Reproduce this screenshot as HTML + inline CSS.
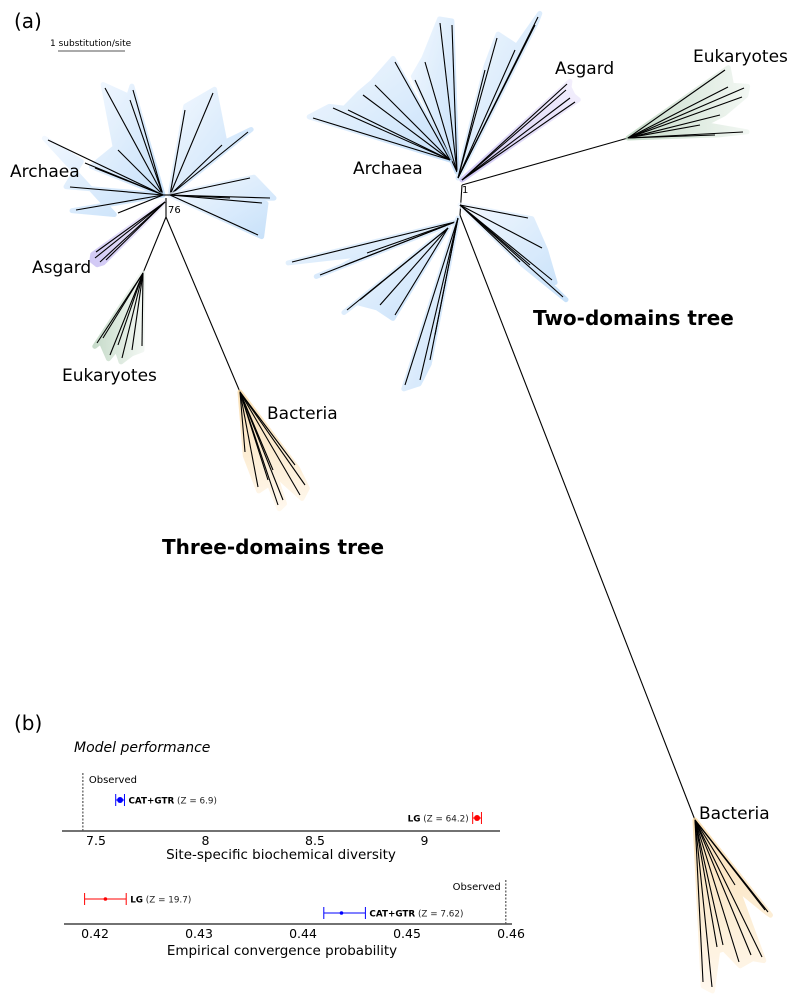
<!DOCTYPE html>
<html><head><meta charset="utf-8"><style>
body{margin:0;background:#fff;font-family:"Liberation Sans","DejaVu Sans",sans-serif;}
svg text{font-family:"DejaVu Sans","Liberation Sans",sans-serif;}
</style></head><body>
<svg id="fig" width="800" height="1001" viewBox="0 0 800 1001" xmlns="http://www.w3.org/2000/svg">
<defs>
<linearGradient id="gb" x1="0" y1="0" x2="1" y2="1"><stop offset="0" stop-color="#eef6ff"/><stop offset="1" stop-color="#b5d7f8"/></linearGradient>
<linearGradient id="go" x1="0" y1="0" x2="0" y2="1"><stop offset="0" stop-color="#f9d79f"/><stop offset="1" stop-color="#fff6e8"/></linearGradient>
<linearGradient id="gg" x1="1" y1="0" x2="0" y2="0"><stop offset="0" stop-color="#eef5ef"/><stop offset="1" stop-color="#b5d0b9"/></linearGradient>
<linearGradient id="gp" x1="1" y1="0" x2="0" y2="1"><stop offset="0" stop-color="#f0ebfc"/><stop offset="1" stop-color="#c2b7f2"/></linearGradient>
</defs>
<text x="14" y="28" font-size="20">(a)</text>
<text x="50" y="46" font-size="9">1 substitution/site</text>
<line x1="58" y1="51" x2="125" y2="51" stroke="#555" stroke-width="1"/>
<g id="trees"></g>
<text x="10" y="177" font-size="17">Archaea</text>
<text x="32" y="273" font-size="17">Asgard</text>
<text x="62" y="381" font-size="17">Eukaryotes</text>
<text x="267" y="419" font-size="17">Bacteria</text>
<text x="168" y="213" font-size="10">76</text>
<text x="162" y="554" font-size="20" font-weight="bold">Three-domains tree</text>
<text x="353" y="174" font-size="17">Archaea</text>
<text x="555" y="74" font-size="17">Asgard</text>
<text x="693" y="62" font-size="17">Eukaryotes</text>
<text x="699" y="819" font-size="17">Bacteria</text>
<text x="462" y="193" font-size="10">1</text>
<text x="533" y="325" font-size="20" font-weight="bold">Two-domains tree</text>

<text x="14" y="730" font-size="20">(b)</text>
<text x="74" y="752" font-size="14" font-style="italic">Model performance</text>
<g id="chart1"></g>
<g id="chart2"></g>
</svg>
<script>
const NS='http://www.w3.org/2000/svg';
const trees=document.getElementById('trees');
function mk(tag,attrs,parent){const e=document.createElementNS(NS,tag);for(const k in attrs)e.setAttribute(k,attrs[k]);parent.appendChild(e);return e;}
function fan(name,o,tips,fill){
  const g=mk('g',{},trees);
  
  
  const s=tips.slice().sort((a,b)=>Math.atan2(a[1]-o[1],a[0]-o[0])-Math.atan2(b[1]-o[1],b[0]-o[0]));
  const pts=[o].concat(s.map(p=>{const dx=p[0]-o[0],dy=p[1]-o[1],l=Math.hypot(dx,dy);return [p[0]+dx/l*4,p[1]+dy/l*4];}));
  const poly=mk('polygon',{points:pts.map(p=>p.join(',')).join(' '),fill:fill,stroke:fill,'stroke-width':5,'stroke-linejoin':'round',opacity:0.75},g);
  
  
  tips.forEach(p=>{const l=mk('line',{x1:o[0],y1:o[1],x2:p[0],y2:p[1],stroke:'#000','stroke-width':1.1},g);
    
    });
}
function ln(a,b){const l=mk('line',{x1:a[0],y1:a[1],x2:b[0],y2:b[1],stroke:'#000','stroke-width':1.1},trees);
  
  }
// Left tree
fan('left-archaea-a',[163,195],[[105,88],[133,90],[130,100],[118,150],[95,168]],'url(#gb)');
fan('left-archaea-a2',[163,195],[[48,140],[85,163],[70,187],[76,210],[118,213]],'url(#gb)');
fan('left-archaea-b',[170,195],[[213,93],[185,110],[222,145],[248,132]],'url(#gb)');
fan('left-archaea-b2',[170,195],[[250,178],[262,203],[270,198],[258,235],[230,198]],'url(#gb)');
fan('left-asgard',[165,202],[[95,258],[100,262],[106,260],[96,252]],'url(#gp)');
ln([166,198],[166,217]);ln([163,195],[170,195]);
ln([166,217],[143,273]);
fan('left-eukaryotes',[143,273],[[97,343],[103,338],[110,355],[122,358],[132,350],[142,346],[118,345]],'url(#gg)');
ln([166,217],[240,392]);
fan('left-bacteria',[240,392],[[245,452],[258,487],[278,505],[283,500],[300,495],[305,485],[295,465],[273,470],[268,480]],'url(#go)');
// Right tree
fan('right-archaea-a',[457,172],[[440,23],[452,25],[425,62],[415,80]],'url(#gb)');
fan('right-archaea-a2',[450,160],[[395,62],[363,95],[348,110],[313,118],[333,108],[375,85]],'url(#gb)');
fan('right-archaea-b',[458,178],[[538,17],[535,25],[497,38],[515,50],[485,70]],'url(#gb)');
fan('right-asgard',[462,180],[[567,84],[566,90],[570,98],[575,102]],'url(#gp)');
ln([462,185],[628,138]);
fan('right-eukaryotes',[628,138],[[725,70],[728,87],[744,88],[742,97],[743,132],[715,135],[720,115],[700,125]],'url(#gg)');
ln([462,185],[460,215]);
fan('right-archaea-c',[460,205],[[528,218],[530,265],[563,297],[552,280],[520,262],[542,248]],'url(#gb)');
fan('right-archaea-d',[455,222],[[292,262],[320,275],[345,265],[367,253]],'url(#gb)');
fan('right-archaea-d2',[448,228],[[347,310],[395,315],[360,300],[380,305]],'url(#gb)');
fan('right-archaea-d3',[458,218],[[420,380],[405,385],[435,335],[430,360]],'url(#gb)');
ln([460,215],[695,820]);
fan('right-bacteria',[695,820],[[703,982],[712,987],[717,947],[723,945],[739,962],[751,955],[762,957],[765,910],[768,912],[735,885]],'url(#go)');

// ---- Panel b charts ----
const c1Models=['CAT+GTR','LG'];
const c1Means=[7.61,9.24];
const c1Lo=[7.59,9.22];
const c1Hi=[7.63,9.26];
const c1Z=['6.9','64.2'];
const c1Observed=7.44;
const c1Ticks=[7.5,8,8.5,9];
const c2Models=['LG','CAT+GTR'];
const c2Means=[0.421,0.4437];
const c2Lo=[0.419,0.442];
const c2Hi=[0.423,0.446];
const c2Z=['19.7','7.62'];
const c2Observed=0.4595;
const c2Ticks=[0.42,0.43,0.44,0.45,0.46];

function chart(gid,cfg){
  const g=document.getElementById(gid);
  const sx=v=>cfg.x0+(v-cfg.v0)*cfg.k;
  const ax=mk('line',{x1:cfg.ax1,y1:cfg.ay,x2:cfg.ax2,y2:cfg.ay,stroke:'#444','stroke-width':1.5},g);
  
  
  cfg.ticks.forEach(t=>{const tx=mk('text',{x:sx(t),y:cfg.ay+14,'font-size':12.5,'text-anchor':'middle'},g);tx.textContent=String(t);
    
    });
  const tt=mk('text',{x:cfg.titleX,y:cfg.titleY,'font-size':13.5,'text-anchor':'middle'},g);tt.textContent=cfg.title;
  
  
  const ox=sx(cfg.obs);
  const ol=mk('line',{x1:ox,y1:cfg.obsY1,x2:ox,y2:cfg.ay,stroke:'#555','stroke-width':1.2,'stroke-dasharray':'2,1.5'},g);
  
  
  const ot=mk('text',{x:cfg.obsTX(ox),y:cfg.obsY1+10,'font-size':10,'text-anchor':cfg.obsAnchor},g);ot.textContent='Observed';
  
  
  cfg.models.forEach((m,i)=>{
    const y=cfg.rowY[i],col=m==='LG'?'#f00':'#00f';
    const eg=mk('g',{},g);
    
    
    const a=sx(cfg.lo[i]),b=sx(cfg.hi[i]);
    mk('line',{x1:a,y1:y,x2:b,y2:y,stroke:col,'stroke-width':1},eg);
    mk('line',{x1:a,y1:y-6,x2:a,y2:y+6,stroke:col,'stroke-width':1},eg);
    mk('line',{x1:b,y1:y-6,x2:b,y2:y+6,stroke:col,'stroke-width':1},eg);
    mk('circle',{cx:sx(cfg.means[i]),cy:y,r:cfg.r,fill:col},eg);
    const right=cfg.labelSide[i]==='right';
    const lt=mk('text',{x:right?b+4:a-4,y:y+3.5,'font-size':8.8,'text-anchor':right?'start':'end'},eg);
    const s1=mk('tspan',{'font-weight':'bold'},lt);s1.textContent=m;
    const s2=mk('tspan',{fill:'#222'},lt);s2.textContent=' (Z = '+cfg.z[i]+')';
  });
}
chart('chart1',{x0:96,v0:7.5,k:219,ax1:62,ax2:500,ay:831,ticks:c1Ticks,title:'Site-specific biochemical diversity',titleX:281,titleY:859,
  obs:c1Observed,obsY1:773,obsTX:x=>x+6,obsAnchor:'start',models:c1Models,means:c1Means,lo:c1Lo,hi:c1Hi,z:c1Z,rowY:[800,818],labelSide:['right','left'],r:3});
chart('chart2',{x0:95,v0:0.42,k:10400,ax1:64,ax2:512,ay:924,ticks:c2Ticks,title:'Empirical convergence probability',titleX:282,titleY:955,
  obs:c2Observed,obsY1:880,obsTX:x=>x-5,obsAnchor:'end',models:c2Models,means:c2Means,lo:c2Lo,hi:c2Hi,z:c2Z,rowY:[899,913],labelSide:['right','right'],r:1.8});
</script>
</body></html>
